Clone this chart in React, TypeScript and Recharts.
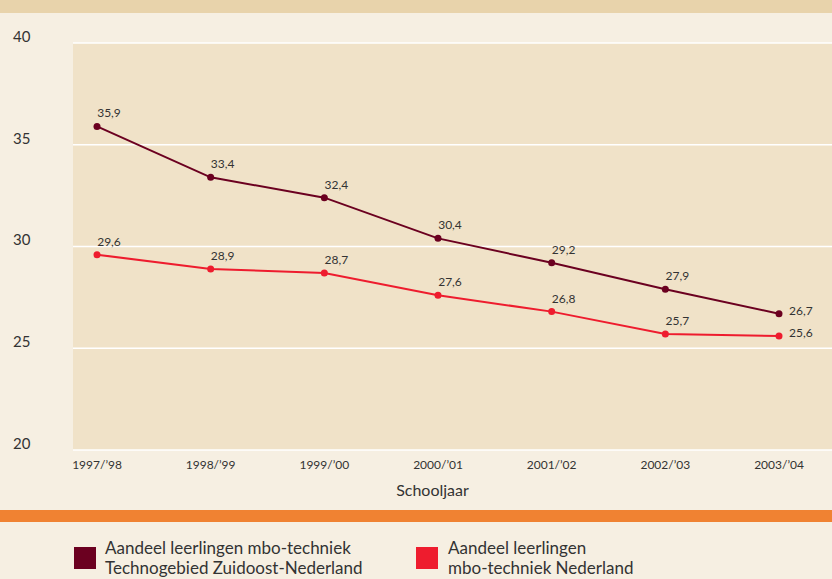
import { CartesianGrid, LabelList, Line, LineChart, XAxis, YAxis } from 'recharts';

const schooljaren = ['1997/’98', '1998/’99', '1999/’00', '2000/’01', '2001/’02', '2002/’03', '2003/’04'];
const zuidoost = [35.9, 33.4, 32.4, 30.4, 29.2, 27.9, 26.7];
const nederland = [29.6, 28.9, 28.7, 27.6, 26.8, 25.7, 25.6];
const yTicks = [20, 25, 30, 35, 40];

const data = schooljaren.map((jaar, i) => ({ jaar, zuidoost: zuidoost[i], nederland: nederland[i] }));

const FONT = 'Lato, "Open Sans", sans-serif';
const fmt = (v: number) => v.toFixed(1).replace('.', ',');

function YTick({ y, payload }: any) {
    return (
        <text x={13} y={y - 5} fontSize={15} fill="#333" fontFamily={FONT} textAnchor="start" dominantBaseline="middle">
            {payload.value}
        </text>
    );
}

function PointLabel(props: any) {
    const { x, y, value, index } = props;
    const last = index === schooljaren.length - 1;
    return (
        <text
            x={last ? x + 10 : x + 12}
            y={last ? y - 2 : y - 12}
            fontSize={12}
            fill="#333"
            fontFamily={FONT}
            textAnchor={last ? 'start' : 'middle'}
            dominantBaseline="middle"
        >
            {fmt(value)}
        </text>
    );
}

export default function App() {
    return (
        <div style={{ position: 'relative', width: 832, height: 579, background: '#f6efe2', overflow: 'hidden', fontFamily: FONT }}>
            <style>{'body{margin:0}'}</style>
            <div style={{ position: 'absolute', left: 0, top: 0, width: 832, height: 13, background: '#e8d3ab' }} />
            <div style={{ position: 'absolute', left: 0, top: 13 }}>
                <LineChart width={832} height={492} data={data} margin={{ top: 30, right: 0, bottom: 0, left: 0 }}>
                    <CartesianGrid vertical={false} stroke="#ffffff" strokeWidth={1.5} fill="#f0e2c8" fillOpacity={1} />
                    <XAxis
                        dataKey="jaar"
                        axisLine={false}
                        tickLine={false}
                        padding={{ left: 24, right: 53 }}
                        height={55}
                        tick={{ fontSize: 12, fill: '#333', fontFamily: FONT }}
                        tickMargin={4}
                        label={{ value: 'Schooljaar', position: 'insideBottom', offset: 9, dx: -20, fontSize: 16, fill: '#333', fontFamily: FONT }}
                    />
                    <YAxis
                        domain={[20, 40]}
                        ticks={yTicks}
                        axisLine={false}
                        tickLine={false}
                        width={73}
                        tick={<YTick />}
                    />
                    <Line
                        dataKey="zuidoost"
                        stroke="#6b0020"
                        strokeWidth={2}
                        dot={{ r: 3.5, fill: '#6b0020', stroke: '#6b0020', strokeWidth: 0 }}
                        isAnimationActive={false}
                    >
                        <LabelList dataKey="zuidoost" content={<PointLabel />} />
                    </Line>
                    <Line
                        dataKey="nederland"
                        stroke="#ee1c2e"
                        strokeWidth={2}
                        dot={{ r: 3.5, fill: '#ee1c2e', stroke: '#ee1c2e', strokeWidth: 0 }}
                        isAnimationActive={false}
                    >
                        <LabelList dataKey="nederland" content={<PointLabel />} />
                    </Line>
                </LineChart>
            </div>
            <div style={{ position: 'absolute', left: 0, top: 510, width: 832, height: 12, background: '#f08232' }} />
            <div style={{ position: 'absolute', left: 74, top: 547, width: 22, height: 22, background: '#6b0020' }} />
            <div style={{ position: 'absolute', left: 105, top: 538, fontSize: 17, lineHeight: '20px', color: '#333' }}>
                Aandeel leerlingen mbo-techniek
                <br />
                Technogebied Zuidoost-Nederland
            </div>
            <div style={{ position: 'absolute', left: 416, top: 547, width: 22, height: 22, background: '#ee1c2e' }} />
            <div style={{ position: 'absolute', left: 448, top: 538, fontSize: 17, lineHeight: '20px', color: '#333' }}>
                Aandeel leerlingen
                <br />
                mbo-techniek Nederland
            </div>
        </div>
    );
}
